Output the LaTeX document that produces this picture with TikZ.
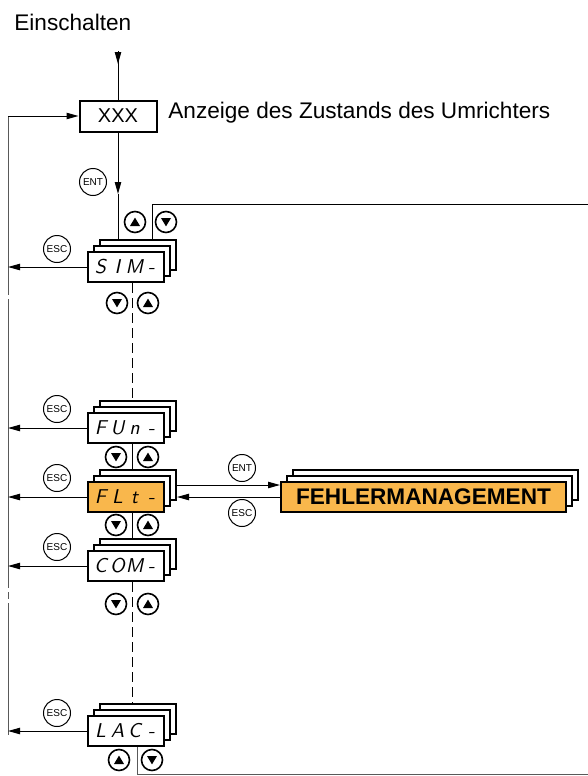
\documentclass[tikz,border=0pt]{standalone}
\usepackage{fontspec}
\setmainfont{Liberation Sans}
\usepackage{xcolor}
\usetikzlibrary{arrows.meta,positioning,calc,shadows}
\definecolor{menuorange}{RGB}{249,183,76}
\newcommand{\segtext}[4]{\makebox[8.5pt]{#1}\makebox[8.5pt]{#2}\makebox[8.5pt]{#3}\makebox[8.5pt]{#4}}

\begin{document}
\begin{tikzpicture}[
  x=0.5pt, y=-0.5pt,
  card/.style={draw,line width=1pt,fill=white,minimum width=38pt,minimum height=15pt,inner sep=0pt,
    font=\sffamily\slshape\fontsize{10}{10}\selectfont,
    general shadow={shadow xshift=6pt,shadow yshift=6pt,fill=white,draw,line width=1pt},
    general shadow={shadow xshift=3pt,shadow yshift=3pt,fill=white,draw,line width=1pt}},
  keybtn/.style={circle,draw,line width=0.5pt,minimum size=13.5pt,inner sep=0pt,font=\fontsize{5}{5}\selectfont},
  keyup/.style={circle,draw,line width=0.8pt,minimum size=10.5pt,inner sep=0pt,
    path picture={\fill ($(path picture bounding box.center)+(0,2.2pt)$) -- ++(-2.5pt,-4.2pt) -- ++(5pt,0) -- cycle;}},
  keydown/.style={circle,draw,line width=0.8pt,minimum size=10.5pt,inner sep=0pt,
    path picture={\fill ($(path picture bounding box.center)+(0,-2.2pt)$) -- ++(-2.5pt,4.2pt) -- ++(5pt,0) -- cycle;}},
  arr/.style={-{Triangle[length=6pt,width=3.2pt]},line width=0.5pt},
  link/.style={line width=0.5pt},
  dashlink/.style={line width=0.5pt,dash pattern=on 5pt off 2.5pt},
  greylink/.style={line width=0.5pt,draw=black!65}
]
\useasboundingbox (0,0) rectangle (588,776);

\node[anchor=west,inner sep=0pt,font=\fontsize{11.3}{13}\selectfont] (power) at (14,22) {Einschalten};
\node[draw,line width=1pt,minimum width=38.5pt,minimum height=15.5pt,inner sep=0pt,font=\fontsize{10}{12}\selectfont] (xxx) at (118,116) {XXX};
\node[anchor=west,inner sep=0pt,font=\fontsize{11.3}{13}\selectfont] (state) at (168,113) {Anzeige des Zustands des Umrichters};

% menu cards
\node[card] (sim) at (126,267) {\segtext{S}{I}{M}{-}};
\node[card] (fun) at (126,428) {\segtext{F}{U}{n}{-}};
\node[card,fill=menuorange] (flt) at (126,497) {\segtext{F}{L}{t}{-}};
\node[card] (com) at (126,566) {\segtext{C}{O}{M}{-}};
\node[card] (lac) at (126,731) {\segtext{L}{A}{C}{-}};
\node[card,fill=menuorange,minimum width=142.5pt,font=\bfseries\fontsize{11.3}{13}\selectfont] (fltmenu) at (423.5,497) {FEHLERMANAGEMENT};

% ENT / ESC keys
\node[keybtn] (entxxx) at (93,182) {ENT};
\node[keybtn] (escsim) at (57,249) {ESC};
\node[keybtn] (escfun) at (57,409) {ESC};
\node[keybtn] (escflt) at (57,478) {ESC};
\node[keybtn] (esccom) at (57,547) {ESC};
\node[keybtn] (esclac) at (57,713) {ESC};
\node[keybtn] (entflt) at (242,468) {ENT};
\node[keybtn] (escmenu) at (242,513) {ESC};

% up / down keys
\node[keyup] (simup) at (135,222) {};
\node[keydown] (simdown) at (166,222) {};
\node[keydown] (simdown2) at (117,303) {};
\node[keyup] (simup2) at (148,303) {};
\node[keydown] (fundown) at (116,457) {};
\node[keyup] (funup) at (148,457) {};
\node[keydown] (fltdown) at (116,525) {};
\node[keyup] (fltup) at (148,525) {};
\node[keydown] (comdown) at (116,604) {};
\node[keyup] (comup) at (148,604) {};
\node[keyup] (lacup) at (119,760) {};
\node[keydown] (lacdown) at (152,760) {};

% connectors
\coordinate (pwrin) at (118,51);
\coordinate (entmid) at (118,194);
\coordinate (ltop) at (8,116);
\coordinate (lbot) at (8,735);
\coordinate (rtop) at (588,204);
\coordinate (rbot) at (588,774);

\draw[link] (pwrin) -- (xxx.north);
\draw[arr] (pwrin) -- ++(0,13);
\draw[arr] (xxx.south) -- (entmid);
\draw[link] (entmid) -- ($(sim.north)+(-8,-12)$);
\draw[link] ($(sim.north)+(26,-12)$) |- (rtop);

\draw[greylink] (ltop) -- (8,295) (8,299) -- (8,588) (8,592) -- (8,599) (8,603) -- (lbot);
\draw[arr] (ltop) -- (xxx.west);
\foreach \n in {sim,fun,flt,com,lac}
  \draw[arr] (\n.west) -- (\n.west -| ltop);

\draw[dashlink] ($(sim.south)+(6,0)$) -- ($(fun.north)+(6,-12)$);
\draw[link] ($(fun.south)+(6,0)$) -- ($(flt.north)+(6,-12)$);
\draw[link] ($(flt.south)+(6,0)$) -- ($(com.north)+(6,-12)$);
\draw[dashlink] ($(com.south)+(6,0)$) -- ($(lac.north)+(6,-12)$);
\draw[greylink] ($(lac.south)+(11,0)$) |- (rbot);

\draw[arr] ($(flt.east)+(12,-12)$) -- ($(fltmenu.west)+(0,-12)$);
\draw[arr] (fltmenu.west) -- ($(flt.east)+(12,0)$);
\end{tikzpicture}
\end{document}
